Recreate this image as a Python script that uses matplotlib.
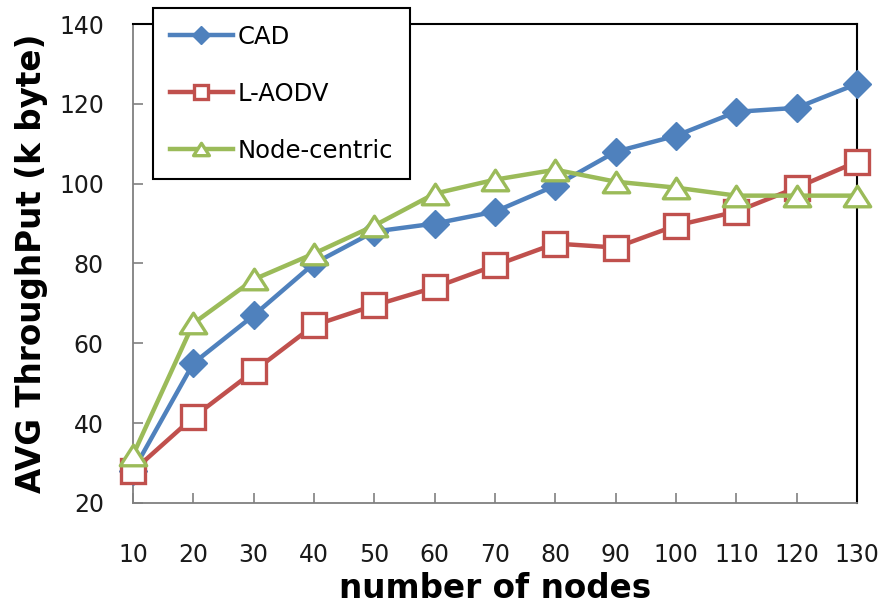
import matplotlib
matplotlib.use("Agg")
import matplotlib.pyplot as plt
from matplotlib.path import Path

# Network size (number of nodes)
nodes = [10, 20, 30, 40, 50, 60, 70, 80, 90, 100, 110, 120, 130]

# Average throughput (k byte) per routing scheme
cad = [28, 55, 67, 80, 88, 90, 93, 99.5, 108, 112, 118, 119, 125]
l_aodv = [28, 41.5, 53, 64.5, 69.5, 74, 79.5, 85, 84, 89.5, 93, 99, 105.5]
node_centric = [32, 65, 76, 82.5, 89.5, 97.5, 101, 103.5, 100.5, 99, 97, 97, 97]

series_names = ["CAD", "L-AODV", "Node-centric"]
x_ticks = nodes
y_ticks = [20, 40, 60, 80, 100, 120, 140]

BLUE = "#4F81BD"
RED = "#C0504D"
GREEN = "#9BBB59"

plt.rcParams["font.family"] = ["DejaVu Sans"]

W, H = 885, 605
fig = plt.figure(figsize=(W / 100, H / 100), dpi=100)
ax = fig.add_axes([133 / W, 1 - 503 / H, (857 - 133) / W, (503 - 24) / H])

# Wide, flat triangle marker
tri = Path([(0, 0.78), (-1, -0.78), (1, -0.78), (0, 0.78)],
           [Path.MOVETO, Path.LINETO, Path.LINETO, Path.CLOSEPOLY])

lw = 3.2
ax.plot(nodes, cad, color=BLUE, lw=lw, marker="D", ms=14.5,
        mfc=BLUE, mec=BLUE, label=series_names[0], zorder=3, clip_on=False)
ax.plot(nodes, l_aodv, color=RED, lw=lw, marker="s", ms=17,
        mfc="white", mec=RED, mew=2.4, label=series_names[1], zorder=4,
        clip_on=False)
ax.plot(nodes, node_centric, color=GREEN, lw=lw, marker=tri, ms=19,
        mfc="white", mec=GREEN, mew=2.4, label=series_names[2], zorder=5,
        clip_on=False)

ax.set_xlim(10, 130)
ax.set_ylim(20, 140)
ax.set_xticks(x_ticks)
ax.set_xticklabels([str(v) for v in x_ticks])
ax.set_yticks(y_ticks)
ax.set_yticklabels([str(v) for v in y_ticks])

for side in ("left", "bottom"):
    ax.spines[side].set_color("#808080")
    ax.spines[side].set_linewidth(1.3)
for side in ("top", "right"):
    ax.spines[side].set_color("black")
    ax.spines[side].set_linewidth(1.5)

ax.tick_params(axis="x", direction="in", length=7, width=1.2, color="#808080",
               labelsize=17, pad=28.5, labelcolor="#1a1a1a")
ax.tick_params(axis="y", direction="in", length=7, width=1.2, color="#808080",
               labelsize=17, pad=21, labelcolor="#1a1a1a")

ax.set_xlabel("number of nodes", fontsize=23.5, fontweight="bold")
ax.set_ylabel("AVG ThroughPut (k byte)", fontsize=23.5, fontweight="bold")
ax.xaxis.set_label_coords(0.5, (503 - 588) / 479)
ax.xaxis.label.set_verticalalignment("center")
ax.yaxis.set_label_coords((32 - 133) / 724, 0.5)
ax.yaxis.label.set_verticalalignment("center")

leg = ax.legend(loc="upper left", bbox_to_anchor=(153 / W, 1 - 8 / H),
                bbox_transform=fig.transFigure, borderaxespad=0,
                fontsize=17.5, frameon=True, fancybox=False, framealpha=1,
                edgecolor="black", handlelength=2.6, handletextpad=0.2,
                labelspacing=1.36, borderpad=0.68, markerscale=0.6)
leg.get_frame().set_linewidth(1.5)
leg.set_zorder(10)

fig.savefig("out.png", dpi=100, facecolor="white")
